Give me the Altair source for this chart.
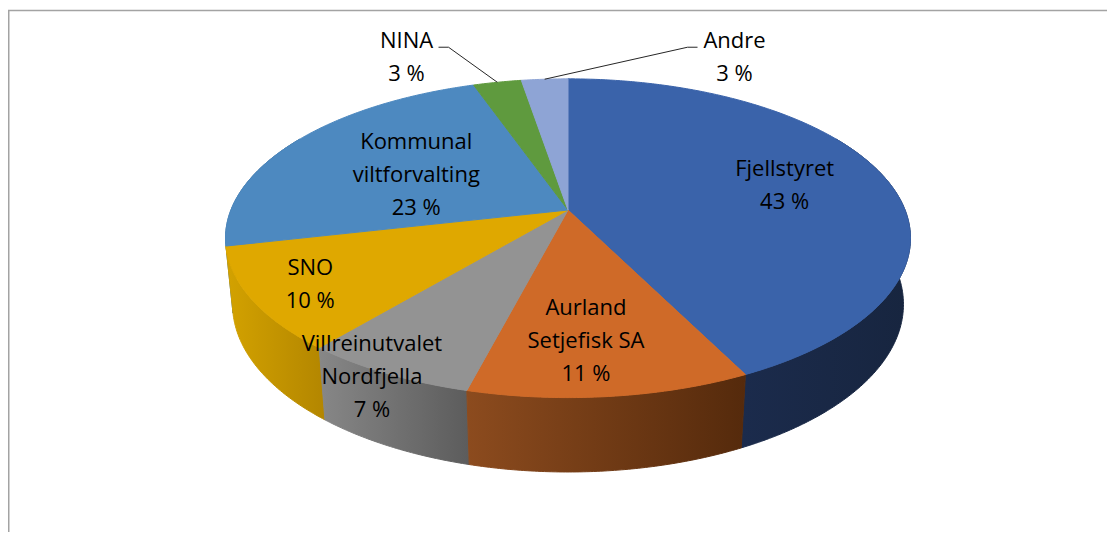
import numpy as np
import pandas as pd
import altair as alt

# ---------------- data ----------------
categories = ["Fjellstyret", "Aurland Setjefisk SA", "Villreinutvalet Nordfjella",
              "SNO", "Kommunal viltforvalting", "NINA", "Andre"]
shares = [42.7, 11.3, 7.0, 10.4, 23.3, 2.7, 2.6]
label_lines = [["Fjellstyret"], ["Aurland", "Setjefisk SA"], ["Villreinutvalet", "Nordfjella"],
               ["SNO"], ["Kommunal", "viltforvalting"], ["NINA"], ["Andre"]]

# ---------------- style ----------------
top_colors = ["#3a63aa", "#cf6a28", "#939393", "#dfa800", "#4d89c0", "#5f9a3e", "#8ea4d5"]
wall_colors = [("#1b2b4c", "#17253f"), ("#8c4b1e", "#552a0c"), ("#878787", "#5c5c5c"),
               ("#d3a200", "#b38600"), ("#3f74a3", "#34618a"), ("#4a7a30", "#3e6628"),
               ("#7383ac", "#5f6e92")]
# label block centre in pie space: (angle from 12 o'clock clockwise, radius fraction)
label_pos = [(76.4, 0.68), (176.4, 0.738), (208.3, 1.03), (237.6, 0.834),
             (296.7, 0.525), (334.2, 1.335), (26.5, 1.343)]
leader = {5: 1, 6: -1}          # slices with leader lines, side of the label
leader_gap = {5: 32, 6: 37}
LINE_H = 33

W, H = 1099, 524
CX, CY = 560.0, 202.0
FOC, DIST, SIN_T, COS_T, THICK = 1692.0, 5.02, 0.458, 0.889, 0.222


def project(theta, r=1.0, lift=0.0):
    t = np.radians(theta)
    X = r * np.sin(t)
    Z = -r * np.cos(t)
    depth = DIST - Z * COS_T - lift * SIN_T
    return CX + X * FOC / depth, CY + (Z * SIN_T - lift * COS_T) * FOC / depth


tot = float(sum(shares))
bounds = np.concatenate([[0.0], np.cumsum(shares)]) / tot * 360.0

xs_enc = alt.X("x:Q", scale=alt.Scale(domain=[0, W], nice=False, zero=False), axis=None)
ys_enc = alt.Y("y:Q", scale=alt.Scale(domain=[0, H], nice=False, zero=False, reverse=True), axis=None)

# ---- walls (drawn back to front) ----
layers = []
wall_order = sorted(range(len(categories)),
                    key=lambda j: -abs((bounds[j] + bounds[j + 1]) / 2 - 180.0))
for i in wall_order:
    a, b = bounds[i], bounds[i + 1]
    lo, hi = max(a, 60.0), min(b, 300.0)
    if hi <= lo:
        continue
    th = np.linspace(lo, hi, max(2, int((hi - lo) / 0.5) + 1))
    tx, ty = project(th)
    bx, by = project(th[::-1], lift=-THICK)
    px = np.concatenate([tx, bx, tx[:1]])
    py = np.concatenate([ty, by, ty[:1]])
    df = pd.DataFrame({"x": px, "y": py, "k": np.arange(len(px))})
    grad = {"gradient": "linear", "x1": 0, "x2": 1, "y1": 0, "y2": 0,
            "stops": [{"offset": 0, "color": wall_colors[i][0]},
                      {"offset": 1, "color": wall_colors[i][1]}]}
    layers.append(alt.Chart(df).mark_line(fill=grad, stroke=grad, strokeWidth=1, strokeJoin="round")
                  .encode(x=xs_enc, y=ys_enc, order="k:Q"))

# ---- top faces ----
rows = []
for i, cat in enumerate(categories):
    a, b = bounds[i], bounds[i + 1]
    th = np.linspace(a, b, max(2, int((b - a) / 0.5) + 1))
    tx, ty = project(th)
    px = np.concatenate([[CX], tx, [CX]])
    py = np.concatenate([[CY], ty, [CY]])
    for k, (x, y) in enumerate(zip(px, py)):
        rows.append({"cat": cat, "x": x, "y": y, "k": k})
top_df = pd.DataFrame(rows)
cscale = alt.Scale(domain=categories, range=top_colors)
layers.append(alt.Chart(top_df).mark_line(strokeWidth=1, strokeJoin="round").encode(
    x=xs_enc, y=ys_enc, order="k:Q", detail="cat:N",
    fill=alt.Fill("cat:N", scale=cscale, legend=None),
    stroke=alt.Stroke("cat:N", scale=cscale, legend=None)))

# ---- labels ----
lab_rows, lead_rows = [], []
for i, cat in enumerate(categories):
    ang, rad = label_pos[i]
    lx, ly = project(ang, r=rad)
    lines = label_lines[i] + [f"{round(shares[i] / tot * 100)} %"]
    first_y = ly - (len(lines) - 1) * LINE_H / 2.0
    lab_rows.append({"x": lx, "y": first_y, "t": "\n".join(lines)})
    if i in leader:
        side = leader[i]
        mid = (bounds[i] + bounds[i + 1]) / 2
        rx, ry = project(mid)
        ey = first_y + 6.7
        ex = lx + side * leader_gap[i]
        elx = ex + side * 10
        for k, (x, y) in enumerate([(ex, ey), (elx, ey), (rx, ry)]):
            lead_rows.append({"cat": cat, "x": x, "y": y, "k": k})

layers.append(alt.Chart(pd.DataFrame(lead_rows)).mark_line(color="#262626", strokeWidth=1).encode(
    x=xs_enc, y=ys_enc, order="k:Q", detail="cat:N"))
layers.append(alt.Chart(pd.DataFrame(lab_rows)).mark_text(
    font="Open Sans", fontSize=22, lineHeight=LINE_H, lineBreak="\n", color="#000000",
    align="center", baseline="middle").encode(x=xs_enc, y=ys_enc, text="t:N"))

# ---- frame ----
one = pd.DataFrame({"a": [0]})
layers.append(alt.Chart(one).mark_rule(color="#a3a3a3", strokeWidth=1.5).encode(
    x=alt.value(0.75), y=alt.value(2.6), y2=alt.value(H)))
layers.append(alt.Chart(one).mark_rule(color="#a3a3a3", strokeWidth=1.5).encode(
    x=alt.value(0), x2=alt.value(W), y=alt.value(2.6)))

chart = alt.layer(*layers).properties(
    width=W, height=H, padding=0, autosize="none", background="white"
).configure_view(strokeWidth=0)

chart.save("out.html", embed_options={"renderer": "svg", "actions": False})
